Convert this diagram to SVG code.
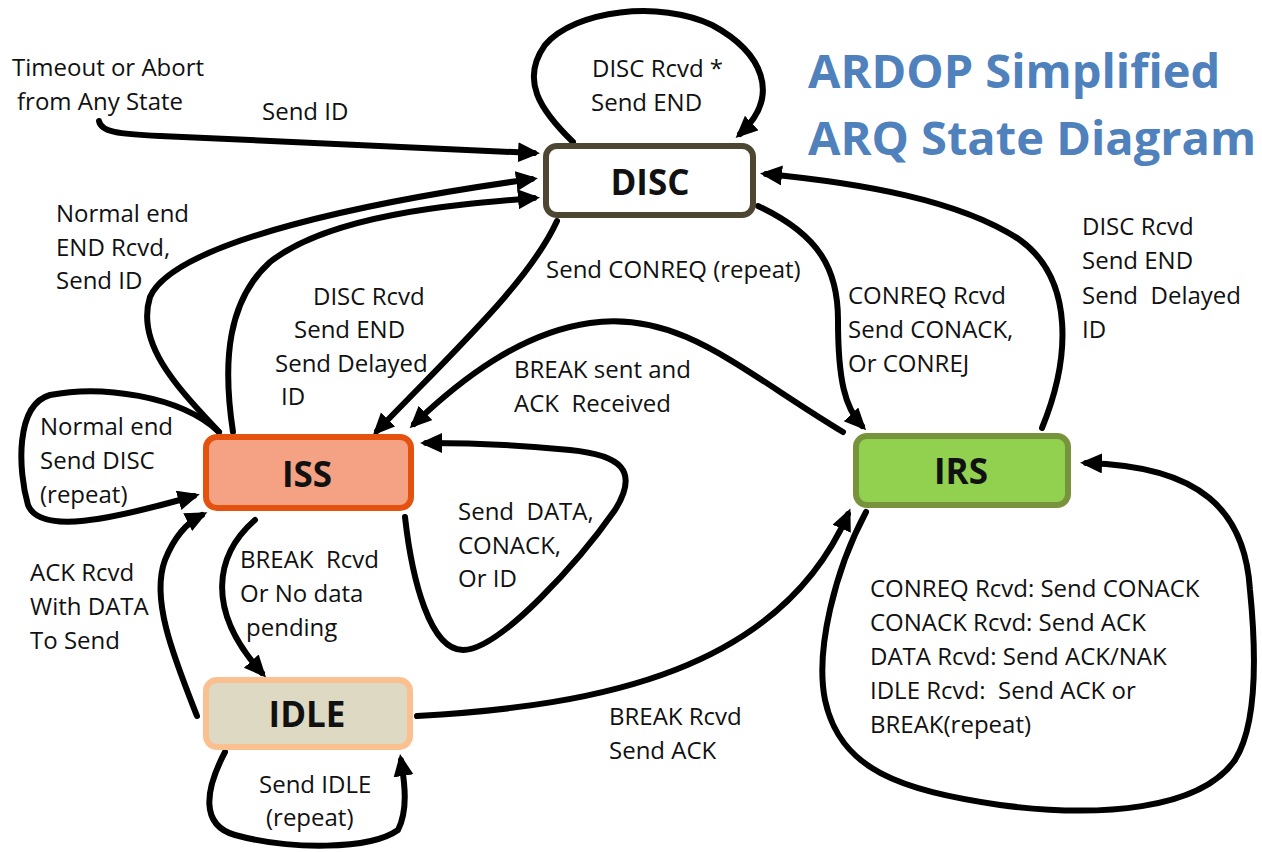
<svg xmlns="http://www.w3.org/2000/svg" width="1262" height="852" viewBox="0 0 1262 852">
<style>
  .lbl { font-family: "Open Sans", "Liberation Sans", sans-serif; font-size: 24px; fill: #111; }
  .node-text { font-family: "Open Sans", "Liberation Sans", sans-serif; font-size: 35px; font-weight: bold; fill: #111; text-anchor: middle; }
  .title { font-family: "Open Sans", "Liberation Sans", sans-serif; font-size: 47px; font-weight: bold; fill: #4f81bd; }
  .edge { fill: none; stroke: #000; stroke-width: 6; stroke-linecap: round; }
  .node rect { stroke-width: 6; }
</style>
<defs>
  <marker id="arrow" markerUnits="userSpaceOnUse" markerWidth="24" markerHeight="22" refX="16" refY="10" orient="auto">
    <path d="M0,0 L22,10 L0,20 z" fill="#000"/>
  </marker>
</defs>
<rect width="1262" height="852" fill="#fff"/>

<g id="title">
  <text class="title" x="808" y="88">ARDOP Simplified</text>
  <text class="title" x="808" y="155">ARQ State Diagram</text>
</g>

<g id="connectors">
  <!-- Timeout -> DISC -->
  <path class="edge" marker-end="url(#arrow)" d="M99,121 C101,132 118,134 160,136 C300,142 420,147 534,153"/>
  <!-- ISS -> DISC outer (Normal end) -->
  <path class="edge" marker-end="url(#arrow)" d="M219,432 C180,390 135,345 150,297 C175,240 380,200 532,179"/>
  <!-- ISS -> DISC inner (DISC Rcvd) -->
  <path class="edge" marker-end="url(#arrow)" d="M233,432 C222,360 228,300 270,262 C330,215 450,205 534,198"/>
  <!-- DISC -> ISS (Send CONREQ) -->
  <path class="edge" marker-end="url(#arrow)" d="M557,221 C530,280 460,345 377,431"/>
  <!-- DISC self loop -->
  <path class="edge" marker-end="url(#arrow)" d="M573,142 C540,110 520,80 545,45 C575,10 660,0 712,25 C762,52 782,95 740,134"/>
  <!-- IRS -> ISS (BREAK sent and ACK Received) -->
  <path class="edge" marker-end="url(#arrow)" d="M843,432 C740,370 680,310 590,323 C520,333 460,380 414,424"/>
  <!-- DISC -> IRS (CONREQ Rcvd) -->
  <path class="edge" marker-end="url(#arrow)" d="M758,206 C820,235 838,270 838,320 C838,380 845,408 862,426"/>
  <!-- IRS -> DISC (DISC Rcvd Send END) -->
  <path class="edge" marker-end="url(#arrow)" d="M1042,428 C1070,360 1075,280 1020,240 C960,200 860,183 766,174"/>
  <!-- ISS self loop left -->
  <path class="edge" marker-end="url(#arrow)" d="M219,432 C180,395 100,385 50,395 C15,405 18,470 28,505 C40,535 110,520 194,496"/>
  <!-- ISS self loop right -->
  <path class="edge" marker-end="url(#arrow)" d="M405,517 C412,580 430,650 463,650 C500,650 580,560 615,510 C640,470 620,455 570,450 C520,445 470,443 426,443"/>
  <!-- ISS -> IDLE -->
  <path class="edge" marker-end="url(#arrow)" d="M255,520 C215,555 205,610 262,673"/>
  <!-- IDLE -> ISS -->
  <path class="edge" marker-end="url(#arrow)" d="M197,716 C175,660 150,600 165,560 C175,535 188,522 202,515"/>
  <!-- IDLE self loop -->
  <path class="edge" marker-end="url(#arrow)" d="M225,752 C205,790 200,825 235,835 C290,850 370,850 398,830 C408,810 405,785 401,760"/>
  <!-- IDLE -> IRS -->
  <path class="edge" marker-end="url(#arrow)" d="M417,716 C600,706 780,670 848,514"/>
  <!-- IRS self loop -->
  <path class="edge" marker-end="url(#arrow)" d="M866,512 C835,570 815,650 825,700 C840,770 900,790 1000,805 C1100,818 1200,810 1235,760 C1260,720 1255,640 1250,590 C1245,510 1200,466 1086,463"/>
</g>

<g id="node-disc" class="node">
  <rect x="546" y="146" width="207" height="69" rx="11" fill="#fff" stroke="#4d4630"/>
  <text class="node-text" x="650" y="195">DISC</text>
</g>
<g id="node-iss" class="node">
  <rect x="206" y="437" width="205" height="71" rx="11" fill="#f4a184" stroke="#e4520f"/>
  <text class="node-text" x="307" y="487">ISS</text>
</g>
<g id="node-irs" class="node">
  <rect x="856" y="436" width="212" height="69" rx="11" fill="#92d050" stroke="#77933c"/>
  <text class="node-text" x="961" y="484">IRS</text>
</g>
<g id="node-idle" class="node">
  <rect x="206" y="680" width="204" height="67" rx="11" fill="#ddd9c3" stroke="#fac090"/>
  <text class="node-text" x="307" y="727">IDLE</text>
</g>

<g id="labels">
  <text class="lbl" x="12" y="76">Timeout or Abort</text>
  <text class="lbl" x="17" y="110">from Any State</text>
  <text class="lbl" x="262" y="120">Send ID</text>

  <text class="lbl" x="592" y="77">DISC Rcvd *</text>
  <text class="lbl" x="591" y="111">Send END</text>

  <text class="lbl" x="56" y="222">Normal end</text>
  <text class="lbl" x="56" y="256">END Rcvd,</text>
  <text class="lbl" x="56" y="289">Send ID</text>

  <text class="lbl" x="313" y="305">DISC Rcvd</text>
  <text class="lbl" x="294" y="338">Send END</text>
  <text class="lbl" x="275" y="372">Send Delayed</text>
  <text class="lbl" x="281" y="405">ID</text>

  <text class="lbl" x="546" y="278">Send CONREQ (repeat)</text>

  <text class="lbl" x="848" y="304">CONREQ Rcvd</text>
  <text class="lbl" x="848" y="338">Send CONACK,</text>
  <text class="lbl" x="848" y="372">Or CONREJ</text>

  <text class="lbl" x="1082" y="235">DISC Rcvd</text>
  <text class="lbl" x="1082" y="269">Send END</text>
  <text class="lbl" x="1082" y="304" xml:space="preserve">Send  Delayed</text>
  <text class="lbl" x="1082" y="338">ID</text>

  <text class="lbl" x="514" y="378">BREAK sent and</text>
  <text class="lbl" x="514" y="412" xml:space="preserve">ACK  Received</text>

  <text class="lbl" x="40" y="435">Normal end</text>
  <text class="lbl" x="40" y="469">Send DISC</text>
  <text class="lbl" x="40" y="503">(repeat)</text>

  <text class="lbl" x="458" y="520" xml:space="preserve">Send  DATA,</text>
  <text class="lbl" x="458" y="554">CONACK,</text>
  <text class="lbl" x="458" y="587">Or ID</text>

  <text class="lbl" x="240" y="568" xml:space="preserve">BREAK  Rcvd</text>
  <text class="lbl" x="240" y="602">Or No data</text>
  <text class="lbl" x="246" y="636">pending</text>

  <text class="lbl" x="30" y="581">ACK Rcvd</text>
  <text class="lbl" x="30" y="615">With DATA</text>
  <text class="lbl" x="30" y="649">To Send</text>

  <text class="lbl" x="870" y="597">CONREQ Rcvd: Send CONACK</text>
  <text class="lbl" x="870" y="631">CONACK Rcvd: Send ACK</text>
  <text class="lbl" x="870" y="665">DATA Rcvd: Send ACK/NAK</text>
  <text class="lbl" x="870" y="699" xml:space="preserve">IDLE Rcvd:  Send ACK or</text>
  <text class="lbl" x="870" y="733">BREAK(repeat)</text>

  <text class="lbl" x="609" y="725">BREAK Rcvd</text>
  <text class="lbl" x="609" y="759">Send ACK</text>

  <text class="lbl" x="259" y="793">Send IDLE</text>
  <text class="lbl" x="266" y="826">(repeat)</text>
</g>
</svg>
